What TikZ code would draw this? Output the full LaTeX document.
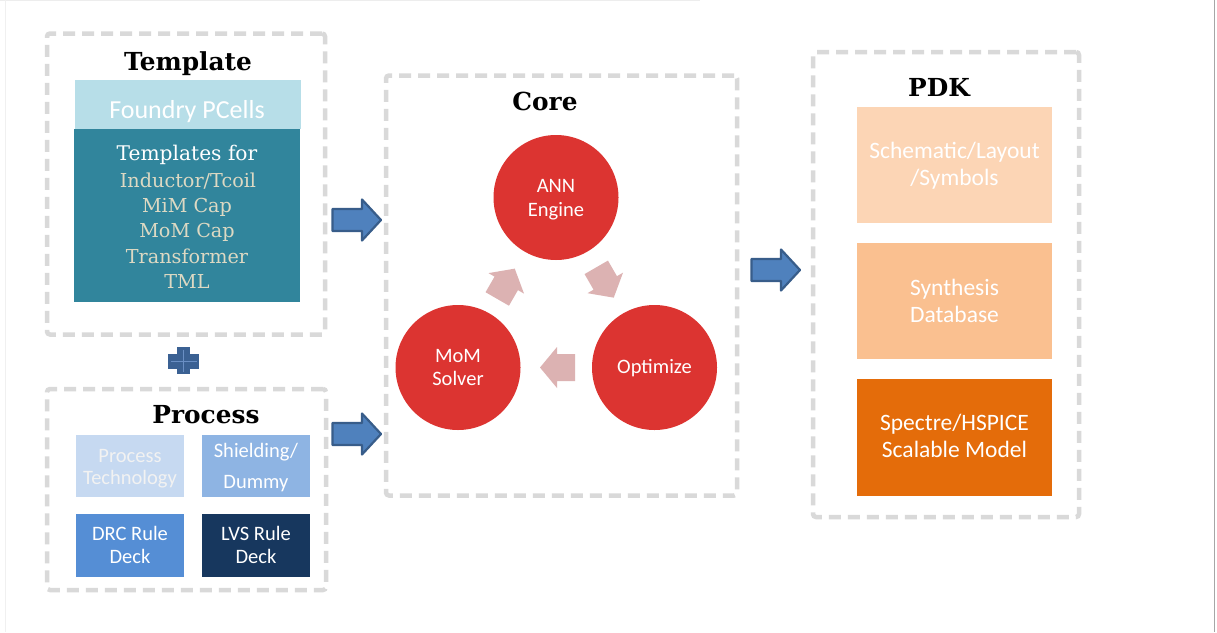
\documentclass[tikz,border=0pt]{standalone}
\usepackage{fontspec}
\newfontfamily\calfont{Carlito}
\newfontfamily\serfont{DejaVu Serif}
\usetikzlibrary{calc}
\definecolor{dashgray}{HTML}{D9D9D9}
\definecolor{foundry}{HTML}{B7DEE8}
\definecolor{tealbox}{HTML}{31859C}
\definecolor{beige}{HTML}{DDD9C3}
\definecolor{circred}{HTML}{DC3431}
\definecolor{pinkarr}{HTML}{DCB2B2}
\definecolor{bluefill}{HTML}{4F81BD}
\definecolor{blueedge}{HTML}{385D8A}
\definecolor{plusblue}{HTML}{3B6193}
\definecolor{pluslight}{HTML}{6A8FC4}
\definecolor{ptech}{HTML}{C6D9F1}
\definecolor{shield}{HTML}{8EB4E3}
\definecolor{drc}{HTML}{558ED5}
\definecolor{lvs}{HTML}{17375E}
\definecolor{pdkA}{HTML}{FCD5B5}
\definecolor{pdkB}{HTML}{FAC090}
\definecolor{pdkC}{HTML}{E46C0A}
\tikzset{
  groupbox/.style={draw=dashgray, line width=4.5, dash pattern=on 12 off 7, rounded corners=3, inner sep=0, fill=none},
  boxnode/.style={inner sep=0, outer sep=0},
  grouptitle/.style={anchor=base, inner sep=0, font=\serfont\fontsize{24.8}{28}\selectfont\bfseries},
  sertext/.style={anchor=base, inner sep=0, font=\serfont\fontsize{19.2}{24}\selectfont},
  santext/.style={anchor=base, inner sep=0, text=white, font=\calfont\fontsize{20.5}{24}\selectfont},
  pdktext/.style={anchor=base, inner sep=0, text=white, font=\calfont\fontsize{23.5}{27}\selectfont},
  stepcircle/.style={circle, fill=circred, minimum size=125, inner sep=0},
  pinkblock/.pic={\path[fill=pinkarr] (-17.5,-13.5) -- (0.5,-13.5) -- (0.5,-20.5) -- (17.5,0) -- (0.5,20.5) -- (0.5,13.5) -- (-17.5,13.5) -- cycle;},
  blueblock/.pic={\path[fill=bluefill, draw=blueedge, line width=2.2, line join=round] (-24.5,-11) -- (5,-11) -- (5,-20.5) -- (24,0) -- (5,20.5) -- (5,11) -- (-24.5,11) -- cycle;}
}
\begin{document}
\begin{tikzpicture}[x=1pt,y=-1pt]
\useasboundingbox (0,0) rectangle (1217,632);
\fill[white] (0,0) rectangle (1217,632);
% faint screenshot frame
\draw[color=black!7, line width=1] (0,0.8) -- (700,0.8);
\draw[color=black!6, line width=1] (5,0) -- (5,632);
\draw[color=black!35, line width=1.5] (1214.5,0) -- (1214.5,632);

% ---------- Template group ----------
\node[groupbox, minimum width=278, minimum height=301] (tmpl) at (186,184) {};
\node[grouptitle] (tmpltitle) at (188,70) {Template};
\node[boxnode, fill=foundry, minimum width=226, minimum height=49] (pcells) at (187.5,104.5) {};
\node[santext, font=\calfont\fontsize{26}{30}\selectfont] (pcellstext) at (187,118) {Foundry PCells};
\node[boxnode, fill=tealbox, minimum width=226, minimum height=173] (tpl) at (187,215.5) {};
\node[sertext, text=white, font=\serfont\fontsize{20.2}{26}\selectfont] (tplhead) at (187,160) {Templates for};
\node[sertext, text=beige] (t1) at (188,187) {Inductor/Tcoil};
\node[sertext, text=beige] (t2) at (187,212) {MiM Cap};
\node[sertext, text=beige] (t3) at (187,237.5) {MoM Cap};
\node[sertext, text=beige] (t4) at (187,263) {Transformer};
\node[sertext, text=beige] (t5) at (187,288) {TML};

% plus sign
\coordinate (plus) at (183.5,361);
\fill[plusblue] ($(plus)+(-15.5,-7.5)$) rectangle ($(plus)+(15.5,7.5)$);
\fill[plusblue] ($(plus)+(-6.5,-14)$) rectangle ($(plus)+(6.5,13)$);
\draw[pluslight, line width=0.8] ($(plus)+(-13,0)$) -- ($(plus)+(13,0)$);
\draw[pluslight, line width=0.8] ($(plus)+(0,-11.5)$) -- ($(plus)+(0,10.5)$);

% ---------- Process group ----------
\node[groupbox, minimum width=279, minimum height=201] (proc) at (186.5,489.5) {};
\node[grouptitle] (proctitle) at (206,423) {Process};
\node[boxnode, fill=ptech, minimum width=108, minimum height=62] (ptechbox) at (130,466) {};
\node[santext, text=white!95!black] (ptechtext) at (130,462) {Process};
\node[santext, text=white!95!black] (ptechtext2) at (130,484) {Technology};
\node[boxnode, fill=shield, minimum width=108, minimum height=62] (shieldbox) at (256,466) {};
\node[santext] (shieldtext) at (256,457) {Shielding/};
\node[santext] (shieldtext2) at (256,488) {Dummy};
\node[boxnode, fill=drc, minimum width=108, minimum height=63] (drcbox) at (130,545.5) {};
\node[santext] (drctext) at (130,540) {DRC Rule};
\node[santext] (drctext2) at (130,563) {Deck};
\node[boxnode, fill=lvs, minimum width=108, minimum height=63] (lvsbox) at (256,545.5) {};
\node[santext] (lvstext) at (256,540) {LVS Rule};
\node[santext] (lvstext2) at (256,563) {Deck};

% ---------- Core group ----------
\node[groupbox, minimum width=351, minimum height=420] (core) at (561.5,285.5) {};
\node[grouptitle] (coretitle) at (545,110) {Core};
\node[stepcircle] (ann) at (556,197.5) {};
\node[stepcircle] (mom) at (458,367.5) {};
\node[stepcircle] (opt) at (654.5,367.5) {};
\node[santext] (anntext) at (556,192) {ANN};
\node[santext] (anntext2) at (556,216) {Engine};
\node[santext] (momtext) at (458,362) {MoM};
\node[santext] (momtext2) at (458,385) {Solver};
\node[santext] (opttext) at (654.5,373) {Optimize};
\coordinate (cen) at (556,310.8);
\pic[rotate=-60] at ($(cen)+(49,-28.3)$) {pinkblock};
\pic[rotate=180] at ($(cen)+(1.5,56.7)$) {pinkblock};
\pic[rotate=60] at ($(cen)+(-50,-27)$) {pinkblock};

% ---------- PDK group ----------
\node[groupbox, minimum width=266, minimum height=465] (pdk) at (946,284.5) {};
\node[grouptitle] (pdktitle) at (939,96) {PDK};
\node[boxnode, fill=pdkA, minimum width=195, minimum height=116] (schem) at (954.5,165) {};
\node[pdktext] (schemtext) at (954.5,158) {Schematic/Layout};
\node[pdktext] (schemtext2) at (954.5,185) {/Symbols};
\node[boxnode, fill=pdkB, minimum width=195, minimum height=116] (synth) at (954.5,301) {};
\node[pdktext] (synthtext) at (954.5,295) {Synthesis};
\node[pdktext] (synthtext2) at (954.5,322) {Database};
\node[boxnode, fill=pdkC, minimum width=195, minimum height=117] (spec) at (954.5,437.5) {};
\node[pdktext] (spectext) at (954.5,430) {Spectre/HSPICE};
\node[pdktext] (spectext2) at (954.5,457) {Scalable Model};

% ---------- block arrows between groups ----------
\pic at (357,220) {blueblock};
\pic at (357,434) {blueblock};
\pic at (776,270) {blueblock};
\end{tikzpicture}
\end{document}
